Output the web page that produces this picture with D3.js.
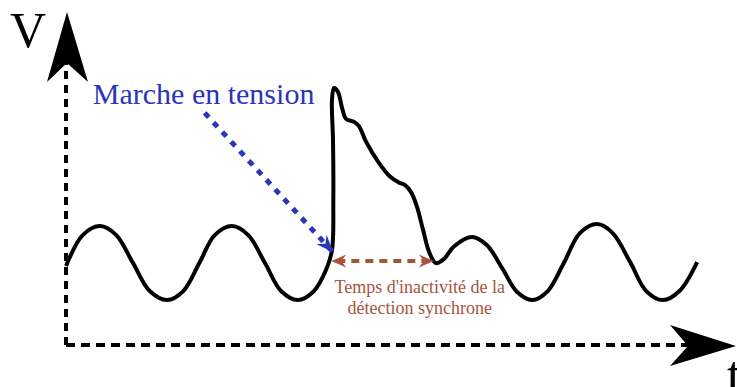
<!DOCTYPE html>
<html>
<head>
<meta charset="utf-8">
<script src="https://cdn.jsdelivr.net/npm/d3@7"></script>
<style>
body { margin: 0; background: #fff; }
svg { display: block; }
</style>
</head>
<body>
<script>
// signal: time (arbitrary units 0..100) and voltage (arbitrary units 0..100)
var timeValues = [0, 2.5, 5.1, 7.5, 10.0, 12.5, 15.1, 17.5, 19.9, 22.2, 24.8, 27.2, 29.7, 32.1,
    34.6, 37.0, 38.8, 39.7, 39.9, 39.85, 39.7, 40.0, 40.6, 41.2, 41.8, 43.0, 43.7, 44.8, 46.6,
    48.4, 49.6, 50.6, 51.5, 52.4, 53.3, 54.2, 55.2, 56.4, 57.9, 60.6, 62.8, 65.1, 67.3, 69.6,
    71.9, 74.3, 76.7, 79.3, 81.6, 84.2, 86.6, 89.1, 91.6, 94.2];
var voltValues = [23.7, 33.0, 35.7, 33.0, 24.6, 16.2, 13.5, 16.2, 24.6, 33.0, 35.7, 33.0, 24.6, 16.2,
    13.5, 16.2, 22.5, 28.5, 43.5, 61.6, 73.6, 77.2, 76.0, 71.2, 67.9, 67.0, 65.8, 61.0, 55.0,
    50.5, 48.9, 48.0, 45.9, 41.4, 34.5, 27.9, 24.6, 25.8, 29.6, 32.4, 30.0, 23.1, 16.0, 13.5,
    16.2, 24.6, 33.6, 36.3, 33.6, 24.9, 16.2, 13.5, 16.3, 24.9];

// annotations
var powerOnLabel = "Marche en tension";
var powerOnFrom = [20.7, 69.7];   // [t, V]
var powerOnTo = [39.85, 27.9];
var deadTimeLabel = ["Temps d'inactivité de la", "détection synchrone"];
var deadTimeSpan = [39.6, 54.9];
var deadTimeLevel = 25.2;
var axisLabels = ["V", "t"];

var width = 737, height = 387;
var blue = "#2a36b8", brown = "#a8543c";

var svg = d3.select("body").append("svg")
    .attr("width", width)
    .attr("height", height);

var x = d3.scaleLinear().domain([0, 100]).range([66, 736]);
var y = d3.scaleLinear().domain([0, 100]).range([345, 12]);

// arrow markers
var defs = svg.append("defs");
function addMarker(id, color, len, half) {
    defs.append("marker")
        .attr("id", id)
        .attr("markerUnits", "userSpaceOnUse")
        .attr("viewBox", "-20 -10 22 20")
        .attr("refX", 0).attr("refY", 0)
        .attr("markerWidth", 22).attr("markerHeight", 20)
        .attr("orient", "auto-start-reverse")
        .append("path")
            .attr("d", "M0,0 L" + (-len) + "," + (-half) + " L" + (-len * 0.66) + ",0 L" + (-len) + "," + half + " Z")
            .attr("fill", color);
}
addMarker("arrowBlue", blue, 17, 7);
addMarker("arrowBrown", brown, 15, 6.5);

// axes: dashed lines with big notched arrowheads
var x0 = x(0), y0 = y(0);
svg.append("line")
    .attr("x1", x0).attr("y1", y0)
    .attr("x2", x0).attr("y2", y(85))
    .attr("stroke", "#000").attr("stroke-width", 4)
    .attr("stroke-dasharray", "8,6");
svg.append("line")
    .attr("x1", x0).attr("y1", y0)
    .attr("x2", x(93)).attr("y2", y0)
    .attr("stroke", "#000").attr("stroke-width", 4)
    .attr("stroke-dasharray", "9,6");

var yTip = [x0 + 1, y(100)];
svg.append("path")
    .attr("d", "M" + yTip[0] + "," + yTip[1] +
        " L" + (yTip[0] + 21) + "," + (yTip[1] + 70) +
        " L" + yTip[0] + "," + (yTip[1] + 51) +
        " L" + (yTip[0] - 20) + "," + (yTip[1] + 70) + " Z")
    .attr("fill", "#000");

var xTip = [x(100), y0 + 1];
svg.append("path")
    .attr("d", "M" + xTip[0] + "," + xTip[1] +
        " L" + (xTip[0] - 66) + "," + (xTip[1] - 21) +
        " L" + (xTip[0] - 48) + "," + xTip[1] +
        " L" + (xTip[0] - 66) + "," + (xTip[1] + 20) + " Z")
    .attr("fill", "#000");

svg.append("text")
    .attr("x", 10).attr("y", 47)
    .attr("font-family", "Liberation Serif, serif")
    .attr("font-size", 50)
    .text(axisLabels[0]);
svg.append("text")
    .attr("x", 727).attr("y", 392)
    .attr("font-family", "Liberation Serif, serif")
    .attr("font-size", 52)
    .text(axisLabels[1]);

// the signal
var points = timeValues.map(function(t, i) { return [t, voltValues[i]]; });
var line = d3.line()
    .x(function(d) { return x(d[0]); })
    .y(function(d) { return y(d[1]); })
    .curve(d3.curveCatmullRom.alpha(0.5));

svg.append("path")
    .datum(points)
    .attr("d", line)
    .attr("fill", "none")
    .attr("stroke", "#000")
    .attr("stroke-width", 4)
    .attr("stroke-linejoin", "round");

// power-on annotation
svg.append("text")
    .attr("x", x(4.0)).attr("y", y(72.4))
    .attr("font-family", "Liberation Serif, serif")
    .attr("font-size", 30)
    .attr("fill", blue)
    .text(powerOnLabel);

svg.append("line")
    .attr("x1", x(powerOnFrom[0])).attr("y1", y(powerOnFrom[1]))
    .attr("x2", x(powerOnTo[0])).attr("y2", y(powerOnTo[1]))
    .attr("stroke", blue).attr("stroke-width", 5)
    .attr("stroke-dasharray", "6,7")
    .attr("marker-end", "url(#arrowBlue)");

// dead time annotation
svg.append("line")
    .attr("x1", x(deadTimeSpan[0])).attr("y1", y(deadTimeLevel))
    .attr("x2", x(deadTimeSpan[1])).attr("y2", y(deadTimeLevel))
    .attr("stroke", brown).attr("stroke-width", 4)
    .attr("stroke-dasharray", "8,6")
    .attr("stroke-dashoffset", -6)
    .attr("marker-start", "url(#arrowBrown)")
    .attr("marker-end", "url(#arrowBrown)");

svg.selectAll(".dead-label")
    .data(deadTimeLabel)
    .enter().append("text")
        .attr("class", "dead-label")
        .attr("x", x(52.8))
        .attr("y", function(d, i) { return y(15.6) + i * 21; })
        .attr("text-anchor", "middle")
        .attr("font-family", "Liberation Serif, serif")
        .attr("font-size", 18)
        .attr("fill", brown)
        .text(function(d) { return d; });
</script>
</body>
</html>
